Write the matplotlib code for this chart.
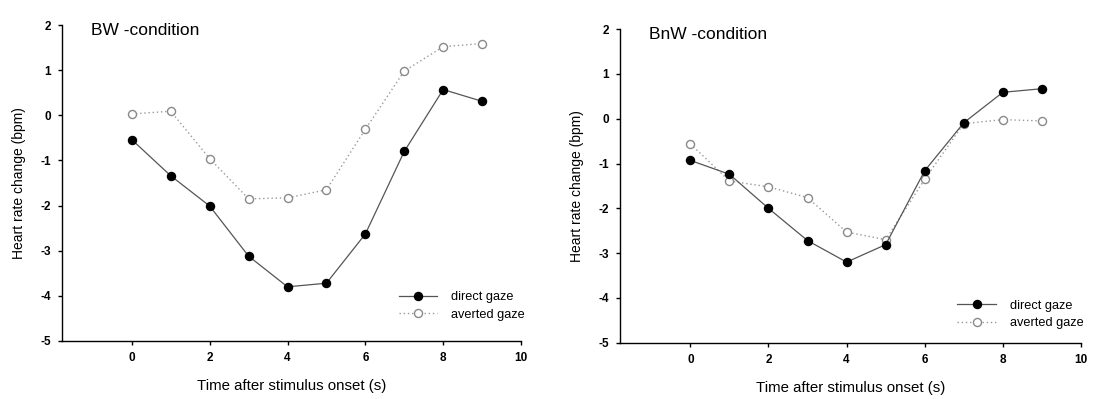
import numpy as np
from matplotlib import pyplot as plt

plt.rcParams['font.family'] = ['Liberation Sans', 'DejaVu Sans']
plt.rcParams['axes.unicode_minus'] = False

time_s = [0, 1, 2, 3, 4, 5, 6, 7, 8, 9]

bw_direct = [-0.54, -1.34, -2.01, -3.12, -3.80, -3.72, -2.63, -0.80, 0.57, 0.31]
bw_averted = [0.03, 0.09, -0.96, -1.85, -1.83, -1.65, -0.31, 0.98, 1.52, 1.59]

bnw_direct = [-0.93, -1.24, -2.00, -2.72, -3.20, -2.81, -1.16, -0.09, 0.59, 0.67]
bnw_averted = [-0.56, -1.39, -1.52, -1.76, -2.53, -2.70, -1.35, -0.11, -0.02, -0.05]

titles = ["BW -condition", "BnW -condition"]
xticks = [0, 2, 4, 6, 8, 10]
yticks = [-5, -4, -3, -2, -1, 0, 1, 2]

fig = plt.figure(figsize=(10.93, 3.99), dpi=100)
ax1 = fig.add_axes([0.0565, 0.1454, 0.4202, 0.7919])
ax2 = fig.add_axes([0.5673, 0.141, 0.4217, 0.786])

panels = [(ax1, bw_direct, bw_averted, titles[0], (0.72, 0.178)),
          (ax2, bnw_direct, bnw_averted, titles[1], (0.718, 0.158))]

for ax, direct, averted, title, leg_pos in panels:
    ax.plot(time_s, direct, color="#555555", lw=0.9, marker="o", ms=5.8,
            mfc="black", mec="black", label="direct gaze", zorder=3)
    ax.plot(time_s, averted, color="#999999", lw=1.0, ls=(0, (1, 2)), marker="o",
            ms=5.8, mfc="white", mec="#8a8a8a", mew=1.0, label="averted gaze", zorder=2)
    ax.set_xlim(-1.8, 10)
    ax.set_ylim(-5, 2)
    ax.set_xticks(xticks)
    ax.set_yticks(yticks)
    ax.spines["top"].set_visible(False)
    ax.spines["right"].set_visible(False)
    ax.spines["left"].set_linewidth(1.0)
    ax.spines["bottom"].set_linewidth(1.0)
    ax.tick_params(direction="out", length=3, width=1.0, labelsize=8.5, pad=5)
    for lab in ax.get_xticklabels() + ax.get_yticklabels():
        lab.set_fontweight("bold")
    ax.set_xlabel("Time after stimulus onset (s)", fontsize=10.8, labelpad=11)
    ax.set_ylabel("Heart rate change (bpm)", fontsize=10, labelpad=10)
    ax.text(-1.05, 1.88, title, fontsize=12.5, va="center", ha="left")
    ax.legend(loc="upper left", bbox_to_anchor=leg_pos, frameon=False,
              fontsize=9.2, handlelength=3.0, handletextpad=1.1,
              labelspacing=0.45, borderpad=0)

plt.savefig("out.png", dpi=100)
